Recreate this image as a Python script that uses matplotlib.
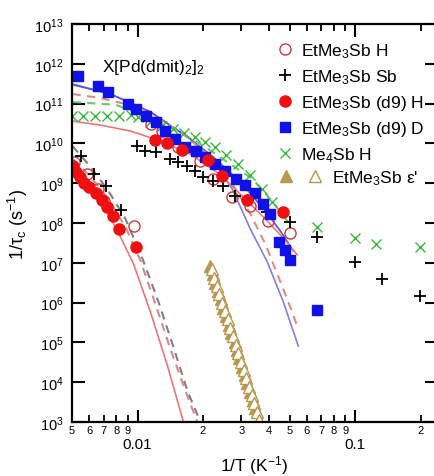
import numpy as np
import matplotlib
matplotlib.use('Agg')
import matplotlib.pyplot as plt
from matplotlib.legend_handler import HandlerTuple
from matplotlib.ticker import NullLocator, FixedLocator, FixedFormatter

plt.rcParams['font.family'] = ['Liberation Sans', 'DejaVu Sans']
plt.rcParams['mathtext.fontset'] = 'custom'
plt.rcParams['mathtext.rm'] = 'Liberation Sans'
plt.rcParams['mathtext.it'] = 'Liberation Sans:italic'
plt.rcParams['mathtext.bf'] = 'Liberation Sans:bold'

# ---- data: x = 1/T (1/K), y = log10(1/tau_c) ----
# EtMe3Sb H (open circles)
h_x = [0.00509, 0.00584, 0.00655, 0.00698, 0.00959,
       0.01159, 0.01302, 0.01542, 0.01945, 0.02232, 0.02728, 0.03298, 0.03989, 0.05031]
h_logy = [9.53, 9.23, 8.85, 8.55, 7.92,
          10.49, 10.31, 9.91, 9.56, 9.11, 8.65, 8.43, 8.05, 7.75]

# EtMe3Sb Sb (plus)
sb_x = [0.00548, 0.00628, 0.00713, 0.00836,
        0.00990, 0.01088, 0.01222, 0.01417, 0.01542, 0.01696, 0.01845, 0.02008, 0.02232,
        0.02480, 0.02816, 0.03230, 0.03947, 0.05031, 0.0669, 0.1000, 0.1330, 0.1987]
sb_logy = [9.68, 9.23, 8.93, 8.33,
           9.93, 9.81, 9.78, 9.61, 9.53, 9.43, 9.31, 9.16, 9.06,
           8.93, 8.68, 8.58, 8.28, 8.03, 7.65, 7.02, 6.59, 6.17]

# EtMe3Sb (d9) H (filled circles)
d9h_x = [0.00503, 0.00520, 0.00542, 0.00565, 0.00596, 0.00642, 0.00684, 0.00721, 0.00768,
         0.00818, 0.00979,
         0.01209, 0.01373, 0.01609, 0.02117, 0.02454, 0.03195, 0.04674]
d9h_logy = [9.43, 9.28, 9.16, 9.01, 8.90, 8.75, 8.58, 8.40, 8.18,
            7.85, 7.40,
            10.09, 10.01, 9.83, 9.58, 9.18, 8.58, 8.28]

# EtMe3Sb (d9) D (squares)
d9d_x = [0.0053, 0.00655, 0.0073, 0.0090, 0.0098, 0.0109, 0.0121, 0.0134, 0.0149, 0.0166,
         0.0185, 0.0205, 0.0228, 0.0253, 0.0282, 0.0313, 0.0348, 0.0378, 0.0407, 0.0448,
         0.0477, 0.0503, 0.0669]
d9d_logy = [11.69, 11.44, 11.29, 10.99, 10.86, 10.69, 10.54, 10.31, 10.11, 9.91,
            9.81, 9.66, 9.48, 9.31, 9.11, 8.95, 8.75, 8.48, 8.23, 7.52,
            7.32, 7.07, 5.81]

# Me4Sb H (crosses)
me4_x = [0.00502, 0.00559, 0.00635, 0.00721, 0.00818, 0.00929, 0.0100, 0.01147, 0.01302,
         0.01463, 0.01643, 0.01845, 0.02051, 0.02279, 0.02560, 0.02906, 0.03298, 0.03744,
         0.04161, 0.06695, 0.1000, 0.1248, 0.1987]
me4_logy = [10.69, 10.69, 10.69, 10.69, 10.69, 10.71, 10.66, 10.54, 10.44,
            10.36, 10.26, 10.16, 10.04, 9.91, 9.71, 9.48, 9.21, 8.85,
            8.53, 7.90, 7.62, 7.47, 7.40]

# EtMe3Sb epsilon' (filled and open triangles)
eps_f_x = [0.0216, 0.0222, 0.0228, 0.0235, 0.0242, 0.0248, 0.0256, 0.0263, 0.0270, 0.0279,
           0.0286, 0.0294, 0.0303, 0.0311, 0.0320, 0.0330, 0.0339, 0.0348]
eps_f_logy = [6.92, 6.71, 6.50, 6.29, 6.08, 5.87, 5.66, 5.44, 5.23, 5.02,
              4.81, 4.60, 4.39, 4.18, 3.97, 3.76, 3.55, 3.34]
eps_o_x = [0.0219, 0.0225, 0.0231, 0.0238, 0.0245, 0.0252, 0.0260, 0.0267, 0.0274, 0.0283,
           0.0290, 0.0298, 0.0308, 0.0316, 0.0325, 0.0335, 0.0344, 0.0353, 0.0360]
eps_o_logy = [6.84, 6.63, 6.42, 6.21, 6.00, 5.79, 5.58, 5.36, 5.15, 4.94,
              4.73, 4.52, 4.31, 4.10, 3.89, 3.68, 3.47, 3.26, 3.06]

# fit curves
fit_blue_x = [0.00503, 0.00752, 0.01147, 0.0175, 0.02279, 0.0297, 0.03866, 0.04529, 0.05195]
fit_blue_logy = [11.49, 11.24, 10.79, 10.11, 9.61, 9.03, 8.30, 7.80, 7.30]
fit_blue2_x = [0.00503, 0.00752, 0.01147, 0.0175, 0.02279, 0.02728, 0.03298, 0.03947, 0.04674, 0.05477]
fit_blue2_logy = [11.47, 11.24, 10.79, 10.11, 9.48, 8.85, 7.85, 7.02, 6.02, 4.91]
fit_pinkd_x = [0.00503, 0.00676, 0.00881, 0.01147, 0.01575, 0.02163, 0.02728, 0.03298,
               0.03866, 0.04387, 0.05033, 0.05477]
fit_pinkd_logy = [11.24, 11.14, 10.99, 10.74, 10.29, 9.66, 8.98, 8.23, 7.47, 6.72, 5.89, 5.34]
fit_green_x = [0.00503, 0.00577, 0.00793, 0.01032, 0.01417, 0.01945, 0.02671, 0.0337, 0.04076, 0.05033]
fit_green_logy = [11.04, 11.02, 10.97, 10.74, 10.41, 9.99, 9.48, 9.11, 8.60, 7.95]
fit_pink_x = [0.00503, 0.00676, 0.00929, 0.01275, 0.0175, 0.02403, 0.0313, 0.03866, 0.04625, 0.05419]
fit_pink_logy = [10.56, 10.46, 10.31, 10.06, 9.73, 9.21, 8.60, 8.10, 7.65, 7.20]

low_red_x = [0.00503, 0.00596, 0.00705, 0.00818, 0.00959, 0.01147, 0.01373, 0.01626]
low_red_logy = [9.36, 8.90, 8.40, 7.75, 6.97, 5.76, 4.41, 3.00]
low_pinkd_x = [0.00503, 0.00609, 0.00736, 0.00881, 0.01032, 0.01209, 0.01417, 0.0166, 0.01884]
low_pinkd_logy = [9.61, 9.16, 8.60, 7.90, 7.05, 5.96, 4.83, 3.78, 3.00]
low_gray_x = [0.00503, 0.00609, 0.00736, 0.00881, 0.01054, 0.01248, 0.01447, 0.01696, 0.01945]
low_gray_logy = [9.93, 9.41, 8.80, 8.10, 7.10, 6.02, 4.96, 3.78, 3.00]

minor_ticks = [0.005, 0.006, 0.007, 0.008, 0.009, 0.02, 0.03, 0.04, 0.05, 0.06, 0.07, 0.08,
               0.09, 0.2]
minor_labels = ['5', '6', '7', '8', '9', '2', '3', '4', '5', '6', '7', '8', '9', '2']
y_decades = [3, 4, 5, 6, 7, 8, 9, 10, 11, 12, 13]


def p(v):
    return 10 ** np.array(v)


fig = plt.figure(figsize=(4.35, 4.77), dpi=100)
ax = fig.add_axes([72 / 435, 54 / 477, 365 / 435, 398 / 477])
ax.set_xscale('log')
ax.set_yscale('log')

# fits
ax.plot(low_red_x, p(low_red_logy), color='#e87878', lw=1.2)
ax.plot(low_pinkd_x, p(low_pinkd_logy), color='#d88890', lw=1.5, ls=(0, (4, 3)))
ax.plot(low_gray_x, p(low_gray_logy), color='#808080', lw=1.5, ls=(0, (4, 3)))
ax.plot(fit_blue2_x, p(fit_blue2_logy), color='#8080e0', lw=1.2)
ax.plot(fit_blue_x, p(fit_blue_logy), color='#5555cc', lw=1.2)
ax.plot(fit_pinkd_x, p(fit_pinkd_logy), color='#e08888', lw=1.5, ls=(0, (4, 3)))
ax.plot(fit_green_x, p(fit_green_logy), color='#66cc66', lw=1.5, ls=(0, (4, 3)))
ax.plot(fit_pink_x, p(fit_pink_logy), color='#e87878', lw=1.2)

# data
l_me4, = ax.plot(me4_x, p(me4_logy), ls='none', marker='x', ms=7, mew=1.0, color='#3cb83c')
l_h, = ax.plot(h_x, p(h_logy), ls='none', marker='o', ms=8, mfc='none', mew=1.0, mec='#cc3a3a')
l_sb, = ax.plot(sb_x, p(sb_logy), ls='none', marker='+', ms=9, mew=1.3, color='black')
l_d9d, = ax.plot(d9d_x, p(d9d_logy), ls='none', marker='s', ms=7.5, color='#1010e8')
l_d9h, = ax.plot(d9h_x, p(d9h_logy), ls='none', marker='o', ms=8, color='#ee1010')
l_ef, = ax.plot(eps_f_x, p(eps_f_logy), ls='none', marker='^', ms=8, color='#b8974e')
l_eo, = ax.plot(eps_o_x, p(eps_o_logy), ls='none', marker='^', ms=8, mfc='white', mew=1.0,
                mec='#b8974e')

ax.set_xlim(0.005, 0.2376)
ax.set_ylim(1e3, 1e13)

# ticks
ax.xaxis.set_major_locator(FixedLocator([0.01, 0.1]))
ax.xaxis.set_major_formatter(FixedFormatter(['0.01', '0.1']))
ax.xaxis.set_minor_locator(FixedLocator(minor_ticks))
ax.xaxis.set_minor_formatter(FixedFormatter(minor_labels))
ax.yaxis.set_major_locator(FixedLocator(p(y_decades)))
ax.yaxis.set_major_formatter(FixedFormatter(['10$^{%d}$' % d for d in y_decades]))
ax.yaxis.set_minor_locator(NullLocator())
ax.tick_params(axis='x', which='major', direction='in', length=9, width=1.5, pad=11,
               labelsize=11, top=True)
ax.tick_params(axis='x', which='minor', direction='in', length=5, width=1.3, pad=2,
               labelsize=8, top=True)
ax.tick_params(axis='y', which='major', direction='in', length=9, width=1.5, pad=6,
               labelsize=10.5, right=True)
for s in ax.spines.values():
    s.set_linewidth(1.6)

ax.set_xlabel('1/T (K$^{-1}$)', fontsize=12.5, labelpad=1)
ax.set_ylabel('1/τ$_{\\rm c}$ (s$^{-1}$)', fontsize=13, labelpad=3)

ax.text(0.0069, 8.7e11, 'X[Pd(dmit)$_2$]$_2$', fontsize=12.5, ha='left', va='center')

leg1 = ax.legend([l_h, l_sb, l_d9h, l_d9d, l_me4],
                 ['EtMe$_3$Sb H', 'EtMe$_3$Sb Sb', 'EtMe$_3$Sb (d9) H',
                  'EtMe$_3$Sb (d9) D', 'Me$_4$Sb H'],
                 loc='upper left', bbox_to_anchor=(0.56, 0.957), frameon=False,
                 fontsize=12.5, handlelength=1.0, handletextpad=0.4, labelspacing=0.41,
                 borderpad=0, borderaxespad=0, numpoints=1)
ax.add_artist(leg1)
ax.legend([(l_ef, l_eo)], ["EtMe$_3$Sb ε'"],
          handler_map={tuple: HandlerTuple(ndivide=None, pad=0.6)},
          loc='upper left', bbox_to_anchor=(0.56, 0.637), frameon=False,
          fontsize=12.5, handlelength=2.8, handletextpad=0.4,
          borderpad=0, borderaxespad=0)

fig.savefig('out.png', dpi=100)
